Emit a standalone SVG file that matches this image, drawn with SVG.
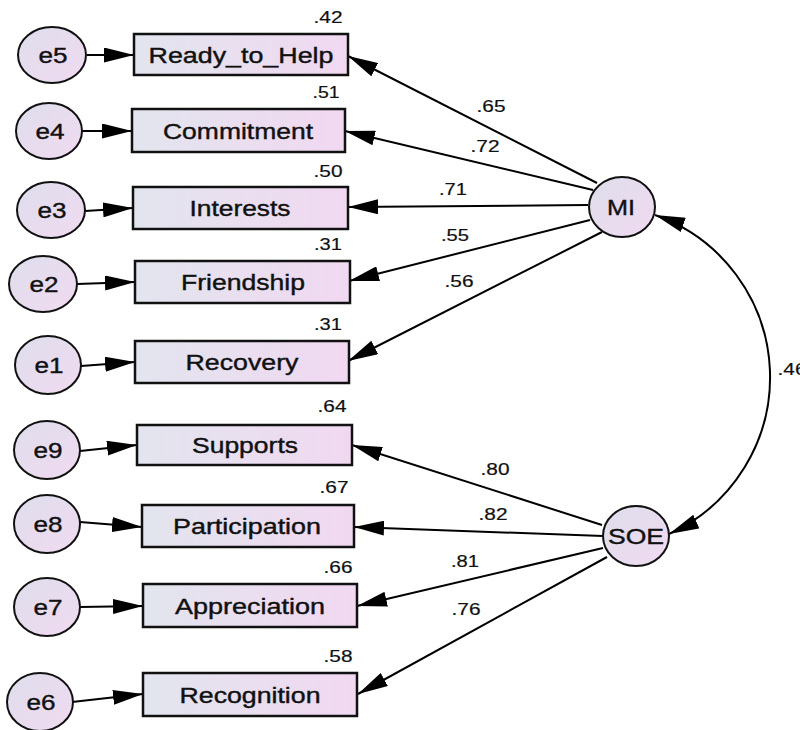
<svg xmlns="http://www.w3.org/2000/svg" width="800" height="730" viewBox="0 0 800 730">
<defs>
<linearGradient id="gBox" x1="0" y1="0" x2="1" y2="0">
<stop offset="0" stop-color="#e2e5ee"/>
<stop offset="1" stop-color="#f1d8f1"/>
</linearGradient>
<linearGradient id="gEll" x1="0" y1="0" x2="1" y2="1">
<stop offset="0" stop-color="#dedeec"/>
<stop offset="1" stop-color="#f1daf1"/>
</linearGradient>
<marker id="arr" viewBox="0 0 30 15" refX="30" refY="7.5" markerUnits="userSpaceOnUse" markerWidth="30" markerHeight="15" orient="auto-start-reverse">
<path d="M0,0 L30,7.5 L0,15 z" fill="#000"/>
</marker>
<style>
.box{fill:url(#gBox);stroke:#111;stroke-width:2.5}
.ell{fill:url(#gEll);stroke:#111;stroke-width:2}
.lbl{font-family:"Liberation Sans",Arial,sans-serif;font-size:22px;fill:#111;stroke:#111;stroke-width:0.4;text-anchor:middle}
.val{font-family:"Liberation Sans",Arial,sans-serif;font-size:17px;fill:#111;stroke:#111;stroke-width:0.2;text-anchor:middle}
.con{stroke:#000;stroke-width:2;fill:none;marker-end:url(#arr)}
</style>
</defs>
<rect width="800" height="730" fill="#fff"/>
<g id="connectors">
<line class="con" x1="87" y1="55" x2="134" y2="55"/>
<line class="con" x1="82" y1="131" x2="132" y2="131"/>
<line class="con" x1="85" y1="211" x2="133" y2="208"/>
<line class="con" x1="77" y1="284" x2="135" y2="282"/>
<line class="con" x1="81" y1="366" x2="135" y2="362"/>
<line class="con" x1="80" y1="451" x2="137" y2="445"/>
<line class="con" x1="80" y1="522" x2="142" y2="527"/>
<line class="con" x1="80" y1="607" x2="143" y2="606"/>
<line class="con" x1="72" y1="702" x2="143" y2="694"/>
<line class="con" x1="597" y1="183" x2="348" y2="56"/>
<line class="con" x1="593" y1="190" x2="345" y2="131"/>
<line class="con" x1="588" y1="205" x2="348" y2="207"/>
<line class="con" x1="590" y1="220" x2="349" y2="281"/>
<line class="con" x1="602" y1="232" x2="348" y2="361"/>
<line class="con" x1="602" y1="525" x2="352" y2="445"/>
<line class="con" x1="603" y1="536" x2="354" y2="527"/>
<line class="con" x1="603" y1="548" x2="357" y2="606"/>
<line class="con" x1="607" y1="557" x2="358" y2="694"/>
<path class="con" d="M655,215 A172,172 0 0 1 669,534" marker-start="url(#arr)"/>
<text class="val" x="491" y="112" textLength="29" lengthAdjust="spacingAndGlyphs">.65</text>
<text class="val" x="485" y="152" textLength="29" lengthAdjust="spacingAndGlyphs">.72</text>
<text class="val" x="453" y="195" textLength="28" lengthAdjust="spacingAndGlyphs">.71</text>
<text class="val" x="455" y="241" textLength="28" lengthAdjust="spacingAndGlyphs">.55</text>
<text class="val" x="459" y="287" textLength="29" lengthAdjust="spacingAndGlyphs">.56</text>
<text class="val" x="495" y="475" textLength="29" lengthAdjust="spacingAndGlyphs">.80</text>
<text class="val" x="493" y="520" textLength="29" lengthAdjust="spacingAndGlyphs">.82</text>
<text class="val" x="465" y="567" textLength="28" lengthAdjust="spacingAndGlyphs">.81</text>
<text class="val" x="466" y="615" textLength="29" lengthAdjust="spacingAndGlyphs">.76</text>
<text class="val" x="792" y="375" textLength="29" lengthAdjust="spacingAndGlyphs">.46</text>
</g>
<g id="e5"><ellipse class="ell" cx="52" cy="55" rx="34" ry="28"/><text class="lbl" x="53" y="63" textLength="29" lengthAdjust="spacingAndGlyphs">e5</text></g>
<g id="e4"><ellipse class="ell" cx="49" cy="131" rx="33" ry="28"/><text class="lbl" x="50" y="139" textLength="29" lengthAdjust="spacingAndGlyphs">e4</text></g>
<g id="e3"><ellipse class="ell" cx="51" cy="210" rx="34" ry="28"/><text class="lbl" x="52" y="218" textLength="29" lengthAdjust="spacingAndGlyphs">e3</text></g>
<g id="e2"><ellipse class="ell" cx="43" cy="284" rx="34" ry="28"/><text class="lbl" x="44" y="292" textLength="29" lengthAdjust="spacingAndGlyphs">e2</text></g>
<g id="e1"><ellipse class="ell" cx="48" cy="365" rx="33" ry="29"/><text class="lbl" x="49" y="373" textLength="29" lengthAdjust="spacingAndGlyphs">e1</text></g>
<g id="e9"><ellipse class="ell" cx="47" cy="450" rx="33" ry="29"/><text class="lbl" x="48" y="458" textLength="29" lengthAdjust="spacingAndGlyphs">e9</text></g>
<g id="e8"><ellipse class="ell" cx="47" cy="524" rx="33" ry="29"/><text class="lbl" x="48" y="532" textLength="29" lengthAdjust="spacingAndGlyphs">e8</text></g>
<g id="e7"><ellipse class="ell" cx="47" cy="607" rx="33" ry="29"/><text class="lbl" x="48" y="615" textLength="29" lengthAdjust="spacingAndGlyphs">e7</text></g>
<g id="e6"><ellipse class="ell" cx="40" cy="702" rx="33" ry="29"/><text class="lbl" x="41" y="710" textLength="29" lengthAdjust="spacingAndGlyphs">e6</text></g>
<g id="Ready_to_Help"><rect class="box" x="134" y="34" width="214" height="41"/><text class="lbl" x="241" y="63" textLength="185" lengthAdjust="spacingAndGlyphs">Ready_to_Help</text><text class="val" x="328" y="23" textLength="29" lengthAdjust="spacingAndGlyphs">.42</text></g>
<g id="Commitment"><rect class="box" x="132" y="109" width="213" height="43"/><text class="lbl" x="238" y="139" textLength="150" lengthAdjust="spacingAndGlyphs">Commitment</text><text class="val" x="326" y="98" textLength="27" lengthAdjust="spacingAndGlyphs">.51</text></g>
<g id="Interests"><rect class="box" x="133" y="187" width="215" height="42"/><text class="lbl" x="240" y="216" textLength="101" lengthAdjust="spacingAndGlyphs">Interests</text><text class="val" x="328" y="177" textLength="29" lengthAdjust="spacingAndGlyphs">.50</text></g>
<g id="Friendship"><rect class="box" x="135" y="261" width="215" height="42"/><text class="lbl" x="243" y="290" textLength="124" lengthAdjust="spacingAndGlyphs">Friendship</text><text class="val" x="328" y="250" textLength="28" lengthAdjust="spacingAndGlyphs">.31</text></g>
<g id="Recovery"><rect class="box" x="135" y="341" width="214" height="42"/><text class="lbl" x="242" y="370" textLength="113" lengthAdjust="spacingAndGlyphs">Recovery</text><text class="val" x="328" y="330" textLength="28" lengthAdjust="spacingAndGlyphs">.31</text></g>
<g id="Supports"><rect class="box" x="137" y="425" width="215" height="40"/><text class="lbl" x="245" y="453" textLength="106" lengthAdjust="spacingAndGlyphs">Supports</text><text class="val" x="332" y="412" textLength="29" lengthAdjust="spacingAndGlyphs">.64</text></g>
<g id="Participation"><rect class="box" x="142" y="505" width="212" height="42"/><text class="lbl" x="247" y="534" textLength="148" lengthAdjust="spacingAndGlyphs">Participation</text><text class="val" x="334" y="493" textLength="29" lengthAdjust="spacingAndGlyphs">.67</text></g>
<g id="Appreciation"><rect class="box" x="143" y="584" width="214" height="43"/><text class="lbl" x="250" y="614" textLength="150" lengthAdjust="spacingAndGlyphs">Appreciation</text><text class="val" x="338" y="573" textLength="29" lengthAdjust="spacingAndGlyphs">.66</text></g>
<g id="Recognition"><rect class="box" x="143" y="673" width="214" height="43"/><text class="lbl" x="250" y="703" textLength="141" lengthAdjust="spacingAndGlyphs">Recognition</text><text class="val" x="338" y="662" textLength="29" lengthAdjust="spacingAndGlyphs">.58</text></g>
<g id="MI"><ellipse class="ell" cx="622" cy="207" rx="33" ry="30"/><text class="lbl" x="621" y="215" textLength="28" lengthAdjust="spacingAndGlyphs">MI</text></g>
<g id="SOE"><ellipse class="ell" cx="636" cy="536" rx="33" ry="30"/><text class="lbl" x="636" y="544" textLength="56" lengthAdjust="spacingAndGlyphs">SOE</text></g>
</svg>
